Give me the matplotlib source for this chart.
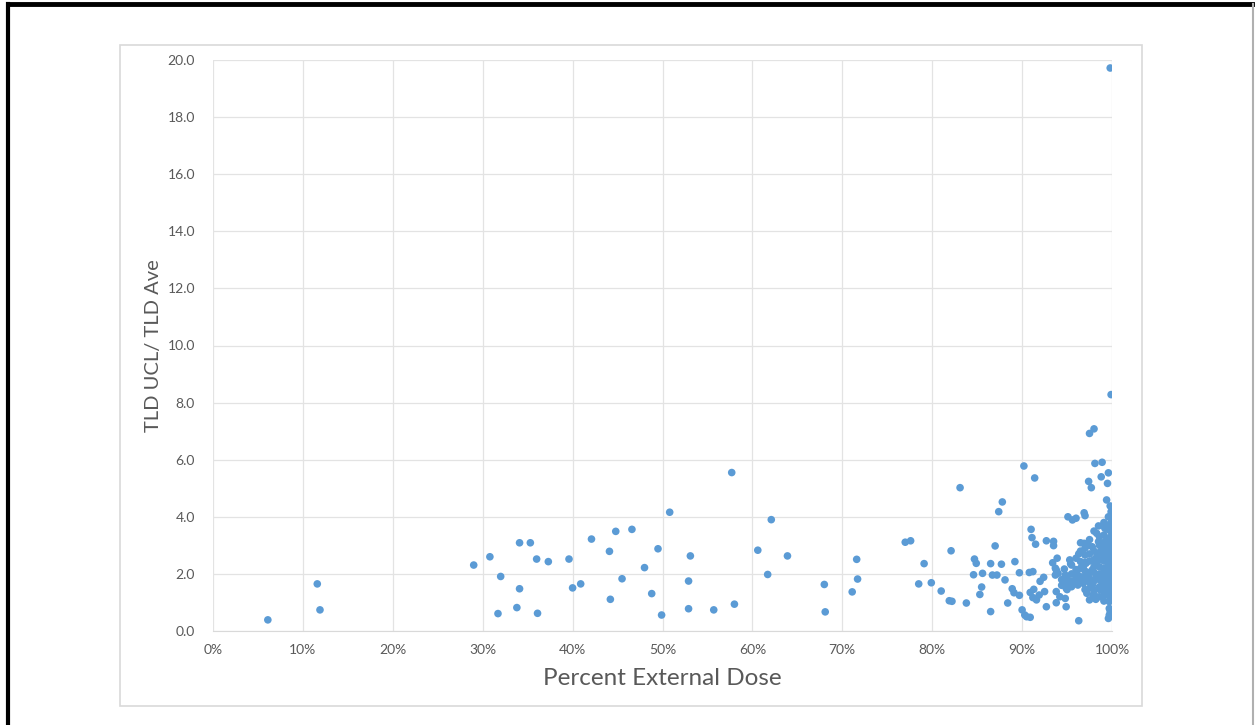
import matplotlib.pyplot as plt
from matplotlib.ticker import FuncFormatter, MultipleLocator
from matplotlib.patches import Rectangle
from matplotlib.lines import Line2D

# scatter values: percent external dose (%), TLD UCL / TLD Ave
x_low = [6.1, 11.6, 11.9, 29.0, 30.8, 32.0, 31.7, 34.1, 35.3, 36.0, 37.3, 34.1, 33.8, 36.1,
         39.6, 40.0, 40.9, 42.1, 44.1, 44.8, 46.6, 45.5, 44.2, 48.0, 48.8, 49.5, 49.9, 50.8,
         53.1, 52.9, 52.9, 55.7, 57.7, 58.0, 60.6, 61.7, 62.1, 63.9, 68.0, 68.1, 71.1, 71.6, 71.7]
y_low = [0.39, 1.65, 0.74, 2.31, 2.60, 1.91, 0.61, 3.09, 3.09, 2.52, 2.43, 1.48, 0.82, 0.62,
         2.52, 1.51, 1.65, 3.22, 2.79, 3.49, 3.56, 1.83, 1.11, 2.22, 1.31, 2.88, 0.56, 4.16,
         2.63, 1.75, 0.78, 0.74, 5.55, 0.94, 2.83, 1.98, 3.90, 2.63, 1.63, 0.67, 1.37, 2.51, 1.82]

x_mid = [77.0, 77.6, 79.1, 78.5, 79.9, 81.0, 81.9, 82.2, 82.1, 83.1, 83.8, 84.7, 84.9, 84.6,
         85.6, 85.5, 85.3, 86.5, 86.5, 86.7, 87.2, 87.0, 87.7, 87.4, 87.8, 88.1, 88.4, 88.9,
         89.2, 89.1, 89.7, 89.7, 90.2, 91.4, 90.0, 90.3, 90.5, 90.9, 91.0, 91.1, 91.5, 90.8,
         91.2, 90.9, 91.3, 91.2, 91.6, 91.9, 92.0, 92.4, 92.5, 92.7, 92.7, 93.5, 93.5, 93.4,
         93.9, 93.8, 93.7, 93.8, 94.2, 93.8, 94.9, 94.7, 95.3, 95.4, 95.1, 95.6, 96.0, 96.3,
         96.3, 96.5, 96.5, 96.9, 96.9, 97.0, 97.3, 97.5, 98.0, 98.1, 98.9, 97.4, 97.7, 98.8,
         99.6, 99.5, 99.9, 99.8]
y_mid = [3.11, 3.16, 2.36, 1.65, 1.69, 1.40, 1.06, 1.04, 2.81, 5.02, 0.98, 2.52, 2.37, 1.97,
         2.02, 1.54, 1.28, 2.36, 0.68, 1.96, 1.96, 2.98, 2.34, 4.18, 4.52, 1.79, 0.98, 1.48,
         2.43, 1.34, 1.25, 2.04, 5.78, 5.36, 0.74, 0.56, 0.50, 0.48, 3.56, 3.27, 3.04, 2.05,
         2.08, 1.35, 1.46, 1.17, 1.09, 1.26, 1.74, 1.88, 1.38, 0.85, 3.16, 3.14, 2.99, 2.39,
         2.55, 2.14, 1.96, 1.38, 1.20, 0.99, 0.85, 2.17, 2.49, 2.35, 4.00, 3.89, 3.95, 0.36,
         2.70, 2.43, 3.09, 3.07, 4.14, 4.04, 3.00, 6.92, 7.08, 5.87, 5.91, 5.24, 5.02, 5.40,
         5.54, 5.17, 8.28, 19.72]

x_top = [99.4, 99.8, 99.9, 99.9, 99.4, 99.2, 98.5, 100.0, 100.0, 99.1, 98.3, 98.5, 99.4, 100.0,
         97.8, 99.0, 100.0, 97.0, 98.3, 99.4, 95.5, 97.1, 98.2, 100.0, 93.7, 96.8, 97.8, 99.2,
         100.0, 94.0, 94.8, 96.1, 97.1, 98.3, 99.3, 100.0, 94.6, 95.1, 95.7, 96.2, 96.8, 97.4,
         97.8, 99.0, 99.8, 94.9, 98.7, 97.2, 97.9, 99.2, 100.0, 94.8, 97.5, 98.2, 99.0, 99.7,
         99.7, 99.8, 99.7, 99.6]
y_top = [4.59, 4.38, 4.18, 3.95, 3.71, 3.60, 3.68, 3.60, 3.42, 3.36, 3.42, 3.13, 3.19, 3.07,
         2.95, 2.84, 2.78, 2.66, 2.60, 2.60, 2.31, 2.37, 2.37, 2.37, 2.20, 2.20, 2.14, 2.20,
         2.14, 2.02, 1.96, 2.02, 1.96, 1.90, 1.96, 1.84, 1.67, 1.61, 1.67, 1.61, 1.67, 1.73,
         1.61, 1.67, 1.61, 1.50, 1.44, 1.32, 1.26, 1.32, 1.38, 1.14, 1.09, 1.11, 1.20, 1.03,
         0.79, 0.68, 0.56, 0.44]

# extra points filling the dense block near 95-100 %
x_dense = [99.9, 99.9, 99.9, 99.9, 99.9, 99.9, 99.9, 99.9, 99.9, 99.9, 99.9, 99.9, 99.9, 99.9,
           99.6, 99.6, 99.6, 99.6, 99.6, 99.6, 99.6, 99.6, 99.6, 99.6, 99.6, 99.6,
           99.1, 99.1, 99.1, 99.1, 99.1, 99.1, 99.1, 99.1, 99.1, 99.1,
           98.6, 98.6, 98.6, 98.6, 98.6, 98.6, 98.6, 98.6, 98.6,
           98.0, 98.0, 98.0, 98.0, 98.0, 98.0, 98.0, 98.0,
           97.5, 97.5, 97.5, 97.5, 97.5, 97.5, 97.0, 97.0, 97.0, 97.0, 97.0,
           96.5, 96.5, 96.5, 96.5, 96.0, 96.0, 96.0, 95.5, 95.5, 95.5, 95.0, 95.0, 95.0, 94.4, 94.4]
y_dense = [3.80, 3.50, 3.30, 2.90, 2.70, 2.50, 2.45, 2.28, 2.05, 1.90, 1.75, 1.55, 1.26, 1.20,
           4.00, 3.55, 3.25, 3.00, 2.80, 2.55, 2.30, 2.10, 1.85, 1.70, 1.45, 1.25,
           3.80, 3.10, 2.90, 2.65, 2.45, 2.10, 1.85, 1.55, 1.40, 1.05,
           3.30, 3.00, 2.75, 2.50, 2.25, 2.00, 1.80, 1.55, 1.20,
           3.50, 2.80, 2.50, 2.25, 2.05, 1.75, 1.45, 1.30,
           3.20, 2.70, 2.45, 2.05, 1.85, 1.50, 2.90, 2.40, 2.10, 1.80, 1.45,
           2.80, 2.20, 1.90, 1.75, 2.55, 2.15, 1.85, 2.00, 1.75, 1.55, 1.85, 1.70, 1.45, 1.80, 1.60]

xs = x_low + x_mid + x_top + x_dense
ys = y_low + y_mid + y_top + y_dense

W, H = 1255, 725
fig = plt.figure(figsize=(W / 100, H / 100), dpi=100)
fig.patch.set_facecolor('white')

# outer frame (scanned page border) and chart-area box
fig.add_artist(Line2D([8 / W, 1252 / W], [1 - 4 / H, 1 - 4 / H], color='black', lw=3.5,
                      transform=fig.transFigure))
fig.add_artist(Line2D([8 / W, 8 / W], [0, 1 - 4 / H], color='black', lw=3,
                      transform=fig.transFigure))
fig.add_artist(Line2D([1253 / W, 1253 / W], [0, 1 - 4 / H], color='#b0b0b0', lw=1.5,
                      transform=fig.transFigure))
fig.add_artist(Rectangle((120 / W, 1 - 706 / H), (1142 - 120) / W, (706 - 45) / H,
                         fill=False, edgecolor='#d9d9d9', lw=1.2, transform=fig.transFigure))

ax = fig.add_axes([213 / W, 1 - 631 / H, (1112 - 213) / W, (631 - 60) / H])
ax.scatter(xs, ys, s=30, color='#5b9bd5', edgecolors='none', zorder=3)

ax.set_xlim(0, 100)
ax.set_ylim(0, 20)
ax.xaxis.set_major_locator(MultipleLocator(10))
ax.yaxis.set_major_locator(MultipleLocator(2))
ax.xaxis.set_major_formatter(FuncFormatter(lambda v, p: f"{v:.0f}%"))
ax.yaxis.set_major_formatter(FuncFormatter(lambda v, p: f"{v:.1f}"))
ax.grid(True, color='#e3e3e3', lw=0.9, zorder=0)
for s in ax.spines.values():
    s.set_visible(False)
ax.spines['bottom'].set_visible(True)
ax.spines['bottom'].set_color('#d9d9d9')
ax.tick_params(length=0, labelsize=10, labelcolor='#595959')
ax.tick_params(axis='y', pad=13)
ax.tick_params(axis='x', pad=9)
for lab in ax.get_xticklabels() + ax.get_yticklabels():
    lab.set_fontfamily('Lato')

ax.set_xlabel('Percent External Dose', fontsize=17.5, color='#595959', family='Lato', labelpad=9)
ax.set_ylabel('TLD UCL/ TLD Ave', fontsize=14.5, color='#595959', family='Lato', labelpad=4)

fig.savefig('out.png', dpi=100)
